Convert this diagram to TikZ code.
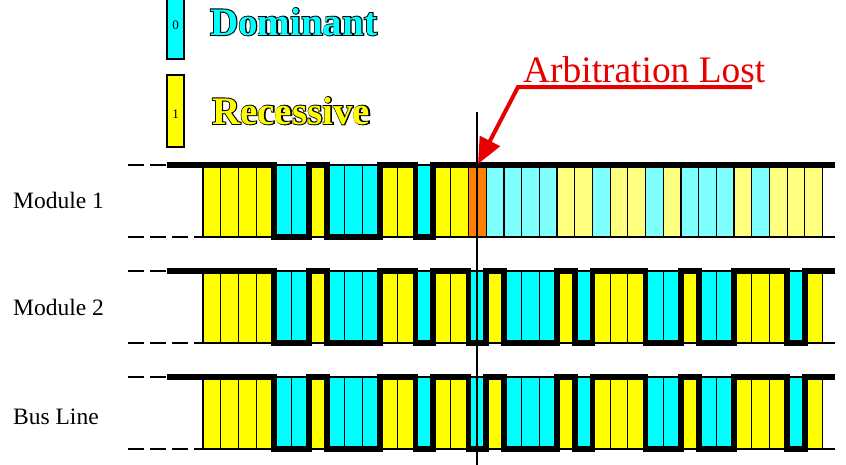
\documentclass[tikz,border=0pt]{standalone}
\usepackage{fontspec}
\setmainfont{Liberation Serif}
\usepackage{xcolor}
\usetikzlibrary{arrows.meta}
\definecolor{DomCyan}{RGB}{0,255,255}
\definecolor{RecYellow}{RGB}{255,255,0}
\definecolor{LostOrange}{RGB}{255,128,0}
\definecolor{LostRed}{RGB}{230,0,0}
% text filled in colour with a black outline (emboldened black copy below)
\newcommand\outlined[2]{\leavevmode
  \rlap{\color{black}\addfontfeature{FakeBold=5}#2}\textcolor{#1}{#2}}

\begin{document}
\begin{tikzpicture}[
  x=1pt, y=-1pt,
  bitbox/.style={draw=black, line width=1.2pt},
  bit0/.style={bitbox, fill=DomCyan},
  bit1/.style={bitbox, fill=RecYellow},
  bit2/.style={bitbox, fill=LostOrange},
  bit3/.style={bitbox, fill=DomCyan!50},
  bit4/.style={bitbox, fill=RecYellow!50},
  wave/.style={draw=black, line width=5.8pt, line join=miter},
  rail/.style={draw=black, line width=2pt},
  railend/.style={rail, dash pattern=on 16pt off 6pt},
  rowlabel/.style={anchor=base west, inner sep=0pt,
                   font=\fontsize{23.5}{24}\selectfont},
  legendbox/.style={draw=black, line width=1.2pt},
  legendtext/.style={anchor=base west, inner sep=0pt,
                     font=\fontsize{39}{40}\selectfont\bfseries},
  digit/.style={inner sep=0pt, font=\fontsize{13}{13}\selectfont},
  marker/.style={draw=black, line width=2pt},
  lostarrow/.style={draw=LostRed, line width=4pt, line join=miter,
                    -{Triangle[length=26pt, width=22pt]}}
]
\useasboundingbox (0,0) rectangle (846,464);

% legend
\filldraw[legendbox, fill=DomCyan] (167,-2) rectangle (184,59);
\node[digit] (zero) at (175.5,25) {0};
\node[legendtext] (dominant) at (210,35) {\outlined{DomCyan}{Dominant}};
\filldraw[legendbox, fill=RecYellow] (167,75) rectangle (184,147);
\node[digit] (one) at (175.5,114) {1};
\node[legendtext] (recessive) at (212,124) {\outlined{RecYellow}{Recessive}};

% Module 1
\node[rowlabel] (mod1) at (13,208) {Module 1};
\foreach \b [count=\k from 0] in {1,1,1,1,0,0,1,0,0,0,1,1,0,1,1,2,
                                  3,3,3,3,4,4,3,4,4,3,4,3,3,3,4,3,4,4,4}
  \path[bit\b] ({203+17.7*\k},165) rectangle ++(17.7,72);
\draw[railend] (128,165) -- (167,165);
\draw[railend] (128,237) -- (203,237);
\draw[rail] (203,237) -- (835,237);
\draw[wave] (167,165)
  \foreach \v [count=\k from 0] in {1,1,1,1,0,0,1,0,0,0,1,1,0,1,1,1}
    { -- ({203+17.7*\k},{165+72*(1-\v)}) -- ++(17.7,0) } -- (835,165);

% Module 2
\begin{scope}[shift={(0,106)}]
\node[rowlabel] (mod2) at (13,209) {Module 2};
\foreach \b [count=\k from 0] in {1,1,1,1,0,0,1,0,0,0,1,1,0,1,1,0,
                                  1,0,0,0,1,0,1,1,1,0,0,1,0,0,1,1,1,0,1}
  \path[bit\b] ({203+17.7*\k},165) rectangle ++(17.7,72);
\draw[railend] (128,165) -- (167,165);
\draw[railend] (128,237) -- (203,237);
\draw[rail] (203,237) -- (835,237);
\draw[wave] (167,165)
  \foreach \v [count=\k from 0] in {1,1,1,1,0,0,1,0,0,0,1,1,0,1,1,0,
                                    1,0,0,0,1,0,1,1,1,0,0,1,0,0,1,1,1,0,1}
    { -- ({203+17.7*\k},{165+72*(1-\v)}) -- ++(17.7,0) } -- (835,165);
\end{scope}

% Bus Line
\begin{scope}[shift={(0,212)}]
\node[rowlabel] (bus) at (13,212) {Bus Line};
\foreach \b [count=\k from 0] in {1,1,1,1,0,0,1,0,0,0,1,1,0,1,1,0,
                                  1,0,0,0,1,0,1,1,1,0,0,1,0,0,1,1,1,0,1}
  \path[bit\b] ({203+17.7*\k},165) rectangle ++(17.7,72);
\draw[railend] (128,165) -- (167,165);
\draw[railend] (128,237) -- (203,237);
\draw[rail] (203,237) -- (835,237);
\draw[wave] (167,165)
  \foreach \v [count=\k from 0] in {1,1,1,1,0,0,1,0,0,0,1,1,0,1,1,0,
                                    1,0,0,0,1,0,1,1,1,0,0,1,0,0,1,1,1,0,1}
    { -- ({203+17.7*\k},{165+72*(1-\v)}) -- ++(17.7,0) } -- (835,165);
\end{scope}

% sample point and arbitration marker
\coordinate (sampletop) at (477,112);
\coordinate (samplebot) at (477,466);
\draw[marker] (sampletop) -- (samplebot);

\node[anchor=base west, inner sep=0pt, text=LostRed,
      font=\fontsize{37.4}{38}\selectfont] (lost) at (523,82) {Arbitration Lost};
\coordinate (lineend) at (752,87);
\coordinate (bend) at (518,87);
\coordinate (losttip) at (478,164);
\draw[lostarrow] (lineend) -- (bend) -- (losttip);

\end{tikzpicture}
\end{document}
